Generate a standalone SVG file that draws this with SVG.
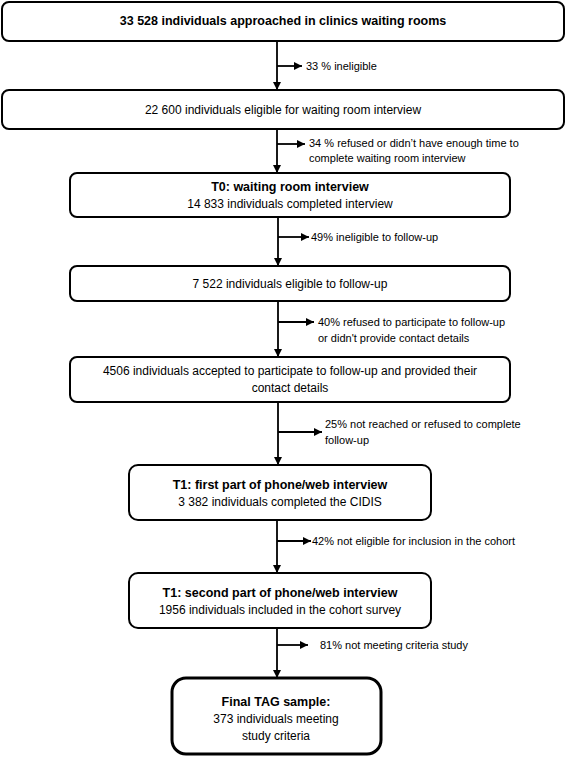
<svg xmlns="http://www.w3.org/2000/svg" width="567" height="757" viewBox="0 0 567 757">
<defs>
<style>
.box{fill:#fff;stroke:#000;stroke-width:2}
.fin{fill:#fff;stroke:#000;stroke-width:3}
.t{font-family:"Liberation Sans",Arial,sans-serif;font-size:12px;fill:#000;text-anchor:middle}
.b{font-weight:bold;font-size:12.5px}
.s{font-family:"Liberation Sans",Arial,sans-serif;font-size:11px;fill:#000}
.ln{stroke:#000;stroke-width:1.8;fill:none}
</style>
<marker id="ah" viewBox="0 0 10 10" refX="10" refY="5" markerWidth="8" markerHeight="8" markerUnits="userSpaceOnUse" orient="auto"><path d="M0,0L10,5L0,10z" fill="#000"/></marker>
</defs>
<rect width="567" height="757" fill="#fff"/>
<g id="connectors">
<line class="ln" x1="277" y1="41" x2="277" y2="90" marker-end="url(#ah)"/>
<line class="ln" x1="277" y1="66" x2="302" y2="66" marker-end="url(#ah)"/>
<line class="ln" x1="277" y1="129" x2="277" y2="173" marker-end="url(#ah)"/>
<line class="ln" x1="277" y1="144" x2="305" y2="144" marker-end="url(#ah)"/>
<line class="ln" x1="278" y1="217" x2="278" y2="266" marker-end="url(#ah)"/>
<line class="ln" x1="278" y1="237" x2="309" y2="237" marker-end="url(#ah)"/>
<line class="ln" x1="278" y1="301" x2="278" y2="357" marker-end="url(#ah)"/>
<line class="ln" x1="278" y1="322" x2="314" y2="322" marker-end="url(#ah)"/>
<line class="ln" x1="278" y1="402" x2="278" y2="465" marker-end="url(#ah)"/>
<line class="ln" x1="278" y1="432" x2="322" y2="432" marker-end="url(#ah)"/>
<line class="ln" x1="277" y1="520" x2="277" y2="573" marker-end="url(#ah)"/>
<line class="ln" x1="277" y1="541" x2="311" y2="541" marker-end="url(#ah)"/>
<line class="ln" x1="277" y1="628" x2="277" y2="678" marker-end="url(#ah)"/>
<line class="ln" x1="277" y1="645" x2="308" y2="645" marker-end="url(#ah)"/>
<text class="s" x="306" y="70">33 % ineligible</text>
<text class="s" x="309" y="147">34 % refused or didn’t have enough time to</text>
<text class="s" x="309" y="162">complete waiting room interview</text>
<text class="s" x="311" y="241">49% ineligible to follow-up</text>
<text class="s" x="318" y="326">40% refused to participate to follow-up</text>
<text class="s" x="318" y="342">or didn't provide contact details</text>
<text class="s" x="325" y="428">25% not reached or refused to complete</text>
<text class="s" x="325" y="444">follow-up</text>
<text class="s" x="312" y="545">42% not eligible for inclusion in the cohort</text>
<text class="s" x="320" y="649">81% not meeting criteria study</text>
</g>
<g id="n1"><rect class="box" x="2" y="2" width="562" height="39" rx="7"/><text class="t b" x="283" y="25">33 528 individuals approached in clinics waiting rooms</text></g>
<g id="n2"><rect class="box" x="2" y="90" width="562" height="39" rx="7"/><text class="t" x="283" y="114">22 600 individuals eligible for waiting room interview</text></g>
<g id="n3"><rect class="box" x="70" y="173" width="440" height="44" rx="7"/><text class="t b" x="290" y="191">T0: waiting room interview</text><text class="t" x="290" y="208">14 833 individuals completed interview</text></g>
<g id="n4"><rect class="box" x="70" y="266" width="440" height="35" rx="7"/><text class="t" x="290" y="288">7 522 individuals eligible to follow-up</text></g>
<g id="n5"><rect class="box" x="70" y="357" width="440" height="45" rx="7"/><text class="t" x="290" y="375">4506 individuals accepted to participate to follow-up and provided their</text><text class="t" x="290" y="392">contact details</text></g>
<g id="n6"><rect class="box" x="129" y="465" width="302" height="55" rx="9"/><text class="t b" x="280" y="489">T1: first part of phone/web interview</text><text class="t" x="280" y="506">3 382 individuals completed the CIDIS</text></g>
<g id="n7"><rect class="box" x="129" y="573" width="302" height="55" rx="9"/><text class="t b" x="280" y="597">T1: second part of phone/web interview</text><text class="t" x="280" y="614">1956 individuals included in the cohort survey</text></g>
<g id="n8"><rect class="fin" x="172" y="678" width="209" height="76" rx="14"/><text class="t b" x="276" y="706">Final TAG sample:</text><text class="t" x="276" y="723">373 individuals meeting</text><text class="t" x="276" y="740">study criteria</text></g>
</svg>
